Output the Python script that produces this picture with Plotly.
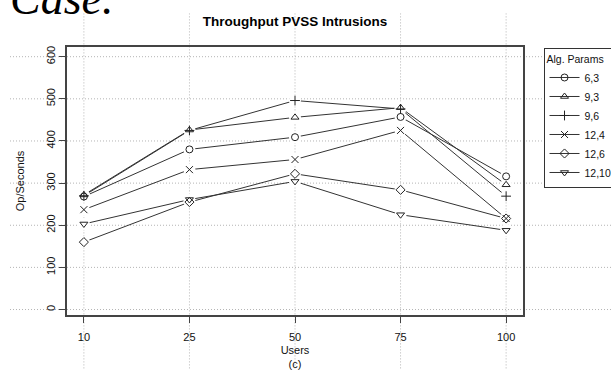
import plotly.graph_objects as go

# ---- data ----
users = ["10", "25", "50", "75", "100"]
series_names = ["6,3", "9,3", "9,6", "12,4", "12,6", "12,10"]
s_6_3 = [268, 380, 409, 457, 316]
s_9_3 = [272, 426, 456, 479, 296]
s_9_6 = [270, 425, 496, 476, 269]
s_12_4 = [237, 332, 356, 425, 216]
s_12_6 = [160, 255, 322, 284, 216]
s_12_10 = [203, 261, 304, 225, 188]
series_values = [s_6_3, s_9_3, s_9_6, s_12_4, s_12_6, s_12_10]
y_ticks = [0, 100, 200, 300, 400, 500, 600]

symbols = ["circle-open", "triangle-up-open", "cross-thin-open",
           "x-thin-open", "diamond-open", "triangle-down-open"]

FONT = "Liberation Sans, Arial, Helvetica, sans-serif"
LINE_COL = "#333333"
MARK_COL = "#222222"
GRID = dict(color="#b4b4b4", width=1, dash="1px,2px")

fig = go.Figure()

# lines (with legend entries)
for name, vals, sym in zip(series_names, series_values, symbols):
    fig.add_trace(go.Scatter(
        x=users, y=vals, name=name, mode="lines+markers",
        line=dict(color=LINE_COL, width=1),
        marker=dict(symbol=sym, size=7, color=MARK_COL, line=dict(width=1, color=MARK_COL)),
        showlegend=True, hoverinfo="skip"))

# white masks to emulate R's type="b" gaps
for vals in series_values:
    fig.add_trace(go.Scatter(
        x=users, y=vals, mode="markers",
        marker=dict(symbol="circle", size=12, color="white", line=dict(width=0)),
        showlegend=False, hoverinfo="skip"))

# markers on top
for vals, sym in zip(series_values, symbols):
    fig.add_trace(go.Scatter(
        x=users, y=vals, mode="markers",
        marker=dict(symbol=sym, size=7, color=MARK_COL, line=dict(width=1, color=MARK_COL)),
        showlegend=False, hoverinfo="skip"))

# dotted grid extending across the whole device (like R's grid on the device)
shapes = []
for i, _u in enumerate(users):
    shapes.append(dict(type="line", xref="x", yref="paper", x0=i, x1=i, y0=-0.3, y1=1.125,
                       line=GRID, layer="below"))
for t in y_ticks:
    shapes.append(dict(type="line", xref="paper", yref="y", x0=-0.125, x1=1.3, y0=t, y1=t,
                       line=GRID, layer="below"))

fig.update_layout(
    width=611, height=370,
    margin=dict(l=67, r=88, t=47, b=55, autoexpand=False),
    paper_bgcolor="white", plot_bgcolor="rgba(0,0,0,0)",
    font=dict(family=FONT, size=11, color="#111111"),
    shapes=shapes,
    title=dict(text="<b>Throughput PVSS Intrusions</b>", x=0.5, xref="paper",
               y=1 - 21 / 370, yanchor="middle", xanchor="center",
               font=dict(family=FONT, size=13.5, color="#000000")),
    xaxis=dict(type="category", range=[-0.16, 4.16], showgrid=False, zeroline=False,
               showline=True, mirror=True, linecolor="#444444", linewidth=1.5,
               ticks="outside", ticklen=6, tickcolor="#444444", tickwidth=1,
               tickfont=dict(size=11, color="#111111"), ticklabelstandoff=5,
               title=dict(text="Users<br>(c)", font=dict(size=11), standoff=9)),
    yaxis=dict(range=[-13, 623], tickvals=y_ticks, showgrid=False, zeroline=False,
               showline=True, mirror=True, linecolor="#444444", linewidth=1.5,
               ticks="outside", ticklen=6, tickcolor="#444444", tickwidth=1,
               tickangle=-90, tickfont=dict(size=11, color="#111111"),
               title=dict(text="Op/Seconds", font=dict(size=11), standoff=18)),
    legend=dict(x=1.045, y=0.995, xanchor="left", yanchor="top",
                bgcolor="white", bordercolor="#333333", borderwidth=1,
                font=dict(family=FONT, size=10.5, color="#111111"),
                title=dict(text="Alg. Params", font=dict(size=10.5)),
                tracegroupgap=0),
    annotations=[dict(text="Case.", xref="paper", yref="paper", x=-0.13, y=1.08,
                      xanchor="left", yanchor="bottom", showarrow=False,
                      font=dict(family="Liberation Serif, Times New Roman, serif",
                                size=46, color="#000000", style="italic"))],
)

fig.write_html("out.html")
